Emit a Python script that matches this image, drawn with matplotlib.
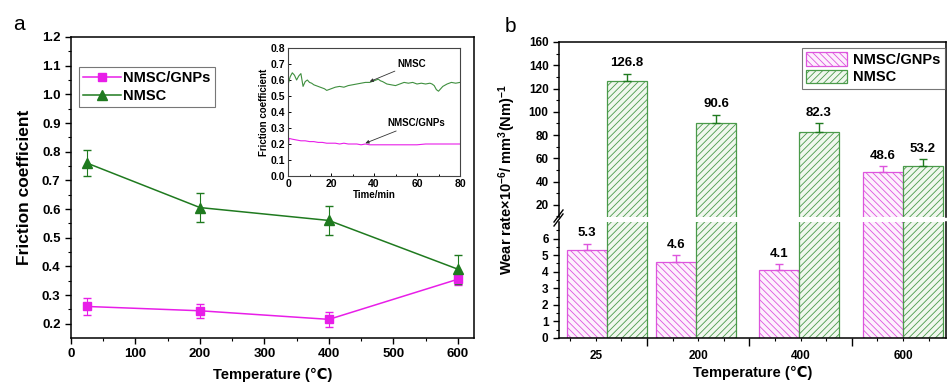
import numpy as np
import matplotlib
matplotlib.use("Agg")
import matplotlib.pyplot as plt
from matplotlib.lines import Line2D

plt.rcParams['font.family'] = ['Liberation Sans', 'DejaVu Sans']
plt.rcParams['font.weight'] = 'bold'
plt.rcParams['mathtext.fontset'] = 'custom'
plt.rcParams['mathtext.rm'] = 'Liberation Sans:bold'
plt.rcParams['mathtext.bf'] = 'Liberation Sans:bold'
plt.rcParams['mathtext.default'] = 'bf'
plt.rcParams['hatch.linewidth'] = 0.6

# ---- panel a: friction coefficient vs temperature ----
temps = [25, 200, 400, 600]
mu_gnps = [0.26, 0.245, 0.215, 0.355]
mu_gnps_err = [0.03, 0.025, 0.025, 0.02]
mu_nmsc = [0.76, 0.605, 0.56, 0.39]
mu_nmsc_err = [0.045, 0.05, 0.05, 0.05]

# inset: friction coefficient vs time
t_nmsc = [0, 1, 2, 3, 4, 5, 6, 7, 8, 9, 10, 11, 12, 13, 14, 15, 16, 17, 18, 19, 20,
          22, 24, 26, 28, 30, 32, 34, 36, 38, 40, 41, 42, 43, 44, 46, 48, 50, 52,
          54, 56, 58, 60, 62, 64, 66, 67, 68, 69, 70, 71, 72, 74, 76, 78, 80]
f_nmsc = [0.57, 0.62, 0.645, 0.63, 0.60, 0.625, 0.64, 0.56, 0.59, 0.60, 0.585, 0.58,
          0.57, 0.565, 0.56, 0.555, 0.55, 0.545, 0.535, 0.54, 0.545,
          0.555, 0.56, 0.555, 0.565, 0.57, 0.575, 0.58, 0.585, 0.585, 0.595, 0.6,
          0.605, 0.595, 0.59, 0.575, 0.57, 0.565, 0.575, 0.585, 0.58, 0.585, 0.575,
          0.58, 0.575, 0.58, 0.575, 0.565, 0.54, 0.53, 0.545, 0.56, 0.575, 0.585,
          0.58, 0.585]
t_gnps = [0, 0.5, 2, 4, 6, 8, 10, 12, 14, 16, 18, 20, 22, 24, 26, 28, 30, 32, 34,
          36, 38, 40, 44, 48, 52, 56, 60, 64, 68, 72, 76, 80]
f_gnps = [0.17, 0.235, 0.23, 0.225, 0.22, 0.22, 0.215, 0.215, 0.21, 0.21, 0.205,
          0.205, 0.205, 0.20, 0.205, 0.20, 0.20, 0.20, 0.195, 0.20, 0.195, 0.195,
          0.195, 0.195, 0.195, 0.195, 0.195, 0.20, 0.20, 0.20, 0.20, 0.20]

# ---- panel b: wear rate ----
cat_labels = ['25', '200', '400', '600']
wear_gnps = [5.3, 4.6, 4.1, 48.6]
wear_gnps_err = [0.4, 0.4, 0.35, 5.0]
wear_nmsc = [126.8, 90.6, 82.3, 53.2]
wear_nmsc_err = [6.0, 7.0, 8.0, 6.0]

MAG = '#e81ee8'
GRN = '#1f7a1f'
BAR_MAG = '#dd55dd'
BAR_GRN = '#4a9a4a'

W, H = 947, 385
fig = plt.figure(figsize=(9.47, 3.85), dpi=100)


def rect(l, t, r, b):
    return [l / W, 1 - b / H, (r - l) / W, (b - t) / H]


# ---------------- panel a ----------------
ax = fig.add_axes(rect(71, 37, 474, 338))
ax.errorbar(temps, mu_gnps, yerr=mu_gnps_err, color=MAG, marker='s', ms=6,
            lw=1.1, capsize=3, elinewidth=0.8, label='NMSC/GNPs')
ax.errorbar(temps, mu_nmsc, yerr=mu_nmsc_err, color=GRN, marker='^', ms=7,
            lw=1.1, capsize=3, elinewidth=0.8, label='NMSC')
ax.set_xlim(0, 625)
ax.set_ylim(0.15, 1.2)
ax.set_xticks(np.arange(0, 601, 100))
ax.set_xticks(np.arange(50, 601, 100), minor=True)
ax.set_yticks(np.arange(0.2, 1.21, 0.1))
ax.set_yticks(np.arange(0.25, 1.2, 0.1), minor=True)
ax.yaxis.set_major_formatter(matplotlib.ticker.FormatStrFormatter('%.1f'))
ax.tick_params(which='major', length=4, width=1, labelsize=9.5)
ax.tick_params(which='minor', length=2.5, width=0.8)
for s in ax.spines.values():
    s.set_linewidth(1.1)
ax.set_xlabel('Temperature (℃)', fontsize=10.5, fontweight='bold', labelpad=5)
ax.set_ylabel('Friction coefficient', fontsize=12.5, fontweight='bold', labelpad=7)
h = [Line2D([], [], color=MAG, marker='s', ms=6, lw=1.1),
     Line2D([], [], color=GRN, marker='^', ms=7, lw=1.1)]
leg = ax.legend(h, ['NMSC/GNPs', 'NMSC'], loc='upper left',
                bbox_to_anchor=(0.02, 0.9), fontsize=10.5, frameon=True,
                fancybox=False, handlelength=2.6, handletextpad=0.1,
                borderpad=0.3, labelspacing=0.25, borderaxespad=0)
leg.get_frame().set_edgecolor('#555555')
leg.get_frame().set_linewidth(0.8)

# inset
ins = fig.add_axes(rect(288, 48, 460, 176))
ins.plot(t_nmsc, f_nmsc, color='#3f8f3f', lw=0.8)
ins.plot(t_gnps, f_gnps, color=MAG, lw=0.8)
ins.set_xlim(0, 80)
ins.set_ylim(0, 0.8)
ins.set_xticks([0, 20, 40, 60, 80])
ins.set_xticks([10, 30, 50, 70], minor=True)
ins.set_yticks(np.arange(0, 0.81, 0.1))
ins.yaxis.set_major_formatter(matplotlib.ticker.FormatStrFormatter('%.1f'))
ins.tick_params(which='both', direction='in', labelsize=7.5, length=2.5, width=0.7,
                pad=2)
ins.tick_params(which='minor', length=1.5)
ins.set_xlabel('Time/min', fontsize=7, fontweight='bold', labelpad=1)
ins.set_ylabel('Friction coefficient', fontsize=7, fontweight='bold', labelpad=1)
for s in ins.spines.values():
    s.set_linewidth(0.8)
    s.set_color('#444444')
ins.annotate('NMSC', xy=(38, 0.59), xytext=(51, 0.7), fontsize=7,
             fontweight='bold', va='center',
             arrowprops=dict(arrowstyle='-|>', color='#333333', lw=0.6,
                             mutation_scale=5, shrinkA=0, shrinkB=0))
ins.annotate('NMSC/GNPs', xy=(36, 0.205), xytext=(46, 0.33), fontsize=7,
             fontweight='bold', va='center',
             arrowprops=dict(arrowstyle='-|>', color='#333333', lw=0.6,
                             mutation_scale=5, shrinkA=0, shrinkB=0))

fig.text(13 / W, 1 - 24 / H, 'a', fontsize=15, fontweight='normal', va='center')

# ---------------- panel b (broken axis) ----------------
axu = fig.add_axes(rect(559, 42, 946, 217))
axl = fig.add_axes(rect(559, 222, 946, 338))
x = np.arange(len(cat_labels))
group_pos = x + np.array([0.11, -0.02, -0.02, 0.0])
bw = 0.39
for a in (axu, axl):
    a.bar(group_pos - bw / 2, wear_gnps, bw, facecolor='#fdf0fd',
          edgecolor=BAR_MAG, hatch='\\\\\\\\\\', lw=0.9, label='NMSC/GNPs')
    a.bar(group_pos + bw / 2, wear_nmsc, bw, facecolor='#f0f7ee',
          edgecolor=BAR_GRN, hatch='/////', lw=0.9, label='NMSC')
    a.errorbar(group_pos - bw / 2, wear_gnps, yerr=[np.zeros(4), wear_gnps_err],
               fmt='none', ecolor=BAR_MAG, capsize=3, elinewidth=1)
    a.errorbar(group_pos + bw / 2, wear_nmsc, yerr=[np.zeros(4), wear_nmsc_err],
               fmt='none', ecolor=GRN, capsize=3, elinewidth=1)
    a.set_xlim(-0.36, 3.42)
    for s in a.spines.values():
        s.set_linewidth(1.1)

axu.set_ylim(9.5, 160)
axl.set_ylim(0, 7)
axu.spines['bottom'].set_visible(False)
axl.spines['top'].set_visible(False)
axu.set_xticks([])
axu.tick_params(axis='x', which='both', bottom=False)
axu.set_yticks(np.arange(20, 161, 20))
axu.set_yticks(np.arange(10, 160, 10), minor=True)
axl.set_yticks(np.arange(0, 7, 1))
axl.set_yticks(np.arange(0.5, 7, 0.5), minor=True)
axl.set_xticks([0.5, 1.5, 2.5])
axl.set_xticklabels([])
quarters = [-0.25, 0, 0.25, 0.75, 1, 1.25, 1.75, 2, 2.25, 2.75, 3, 3.25]
axl.set_xticks(quarters, minor=True)
axl.set_xticklabels(['', '25', '', '', '200', '', '', '400', '', '', '600', ''],
                    minor=True)
for a in (axu, axl):
    a.tick_params(which='major', length=4, width=1, labelsize=8.5)
    a.tick_params(which='minor', length=2.5, width=0.8, labelsize=8.5)
axl.tick_params(axis='x', which='major', length=6)
axl.tick_params(axis='x', which='minor', pad=6)
axl.set_xlabel('Temperature (℃)', fontsize=10.5, fontweight='bold', labelpad=3)

for i in range(len(x)):
    for xi, v, e in ((group_pos[i] - bw / 2, wear_gnps[i], wear_gnps_err[i]),
                     (group_pos[i] + bw / 2, wear_nmsc[i], wear_nmsc_err[i])):
        tgt = axl if v < 7 else axu
        tgt.annotate(f'{v:.1f}', xy=(xi, v + e), xytext=(0, 3),
                     textcoords='offset points', ha='center', va='bottom',
                     fontsize=9.5, fontweight='bold')

legb = axu.legend(loc='upper right', bbox_to_anchor=(0.997, 0.965), fontsize=10.5,
                  fancybox=False, handlelength=2.8, handleheight=1.0,
                  handletextpad=0.4, borderpad=0.3, labelspacing=0.2,
                  borderaxespad=0)
legb.get_frame().set_edgecolor('#555555')
legb.get_frame().set_linewidth(0.8)

# break marks on the left spine
for dy in (0, 4):
    fig.add_artist(Line2D([554 / W, 563 / W],
                          [1 - (222 + dy) / H, 1 - (210 + dy) / H],
                          color='k', lw=1.0))

fig.text(507 / W, 1 - 180 / H,
         'Wear rate×10$^{-6}$/ mm$^{3}$(Nm)$^{-1}$', rotation=90,
         fontsize=10.5, fontweight='bold', ha='center', va='center')
fig.text(505 / W, 1 - 26 / H, 'b', fontsize=15, fontweight='normal', va='center')

fig.savefig('out.png', dpi=100)
